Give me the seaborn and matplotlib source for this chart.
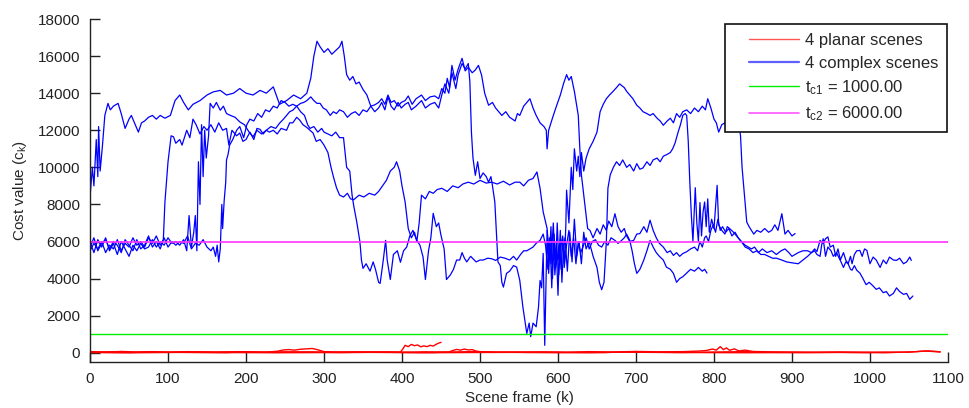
import numpy as np
import pandas as pd
import matplotlib
matplotlib.use("Agg")
import matplotlib.pyplot as plt
from matplotlib.lines import Line2D
from matplotlib.legend_handler import HandlerLine2D
import seaborn as sns

# (frame, cost), one list per scene
complex_1 = [(0,8400),(3,10000),(5,9000),(8,11500),(10,9500),(11,12200),(13,9800),(16,11200),(19,12800),(23,13450),(26,13100),(30,13300),(36,13450),(40,12900),(45,12100),(50,12600),(53,12800),(58,12300),(62,11900),(66,12400),(70,12500),(75,12700),(80,12800),(85,12600),(90,12800),(96,12650),(103,12800),(109,13600),(115,13900),(120,13500),(126,13100),(132,13400),(141,13600),(150,13900),(158,14070),(167,14150),(175,13900),(184,14000),(192,14250),(200,14000),(209,13900),(218,14150),(226,14000),(235,14340),(243,13400),(252,13600),(261,13900),(270,13700),(278,14000),(283,14800),(287,16000),(291,16800),(295,16500),(300,16200),(305,16400),(310,16100),(315,16300),(320,16500),(323,16800),(326,16000),(329,15000),(333,14700),(337,14900),(341,14500),(345,14600),(350,14200),(355,13900),(360,13300),(365,13370),(370,13500),(374,13700),(378,13400),(382,13900),(386,13500),(390,13600),(395,13300),(399,13500),(404,13600),(408,13850),(413,13400),(418,13700),(425,13900),(430,13600),(436,13800),(442,13850),(447,13700),(451,14250),(455,14000),(458,14800),(461,14300),(464,15500),(468,14700),(472,15300),(477,15880),(481,15200),(485,15400),(490,15100),(494,15250),(498,15500),(502,14980),(506,14000),(511,13350),(516,13500),(520,13200),(524,13000),(528,12800),(533,13000),(538,12700),(545,12500),(548,12900),(551,12800),(556,13300),(560,13500),(564,13700),(568,13200),(572,12800),(577,12400),(582,12200),(585,12000),(586,11000),(588,12000),(594,12800),(598,13300),(603,13900),(607,14500),(611,15000),(614,14700),(617,14900),(621,14100),(624,13300),(626,12800),(628,11000),(630,9600),(634,8130),(638,6700),(641,6600),(645,6200),(650,6700),(654,6400),(658,6900),(662,6600),(665,7100),(669,6800),(673,7500),(677,6800),(681,6500),(685,6700),(688,6300),(692,6000),(697,6060),(701,6400),(705,6430),(710,6800),(714,6500),(718,7150),(722,6600),(726,6200),(730,5900),(735,5700),(740,5400),(744,5500),(748,5250),(752,5400),(756,5200),(760,5350),(765,5450),(770,5600),(775,5700),(779,5500),(782,6000),(785,5700),(788,6200),(790,6300),(793,6000),(796,6600),(799,6900),(802,6500),(805,7200),(808,6600),(811,6800),(815,6500),(819,6700),(823,6300),(827,6500),(831,6200),(835,6000),(840,5700),(845,5600),(850,5400),(855,5500),(860,5300),(865,5300),(870,5200),(875,5100),(880,5100),(887,5000),(893,4900),(900,4850),(908,4800),(914,5000),(920,5200),(925,5400),(929,5500),(932,5300),(936,5200),(938,5800),(940,6150),(943,5200),(946,5700),(950,5500),(953,5200),(957,5400),(962,4980),(966,4600),(969,4900),(972,4800),(975,4500),(977,4450),(980,4700),(983,4450),(987,4300),(991,4000),(995,3670),(999,3800),(1004,3600),(1008,3420),(1012,3500),(1017,3240),(1021,3300),(1025,3060),(1030,3200),(1034,3500),(1038,3300),(1043,3150),(1047,3200),(1051,2880),(1055,3060)]

complex_2 = [(0,5500),(5,5900),(10,5600),(15,6000),(20,5400),(25,5800),(30,5600),(35,6100),(40,5500),(45,5900),(50,5700),(55,6200),(60,5800),(65,6000),(70,5700),(75,6200),(80,5900),(85,6300),(90,5800),(94,6100),(96,8100),(100,10300),(104,11700),(107,11650),(110,11300),(115,11500),(118,11200),(124,12000),(128,11600),(132,12600),(136,12300),(141,11800),(146,12200),(150,12000),(155,12300),(160,11900),(165,12400),(170,12000),(175,12100),(178,11200),(182,12000),(188,11700),(192,11850),(196,11400),(200,11500),(205,11900),(210,11500),(214,12100),(218,12050),(222,11800),(226,12000),(230,11900),(235,12000),(240,11800),(245,12100),(252,12000),(256,12400),(260,12400),(265,12700),(269,12540),(273,12300),(278,12150),(282,12000),(286,11850),(290,11400),(295,11500),(300,11200),(305,10800),(309,10000),(312,9500),(316,8900),(320,8500),(325,8400),(330,8600),(334,8300),(338,8250),(345,8500),(351,8400),(358,8600),(365,8500),(370,8700),(375,9000),(380,9300),(385,9800),(390,10000),(393,10300),(397,9800),(400,9000),(404,8130),(408,6700),(412,6200),(416,6500),(419,6000),(422,7000),(425,8500),(430,8300),(435,8700),(440,8600),(445,8800),(451,8870),(458,8700),(465,9000),(472,8900),(478,9100),(485,9200),(492,9100),(500,9300),(508,9150),(515,9200),(522,9100),(530,9250),(538,9050),(545,9200),(551,9200),(556,9000),(562,9300),(568,9400),(573,9750),(577,8870),(581,7600),(586,6700),(589,5200),(591,6800),(593,4000),(595,6400),(597,4600),(599,7000),(601,5000),(603,6600),(605,3800),(607,5600),(609,6200),(612,4400),(615,6500),(618,4900),(621,7200),(624,5200),(627,6000),(630,4800),(633,6500),(636,5600),(640,6000),(645,5200),(650,4600),(653,3800),(656,3400),(659,3800),(662,6000),(664,8870),(667,9600),(671,10000),(675,10300),(679,10100),(683,10400),(688,10000),(692,10150),(697,9800),(701,10200),(705,9900),(709,9970),(714,10300),(718,10100),(722,10400),(727,10500),(731,10300),(735,10600),(740,10700),(744,10800),(747,11000),(750,11300),(754,11900),(757,12300),(760,12800),(763,12900),(765,12800),(767,11400),(769,9200),(771,7400),(773,6000),(776,8900),(778,7000),(780,6000),(782,8100),(784,6300),(786,7600),(788,8130),(790,6800),(792,8300),(794,6500),(797,7200),(800,6700),(804,9030),(806,6900),(810,6600),(814,6400),(817,6800),(820,6700),(825,6500),(831,6200),(835,6000),(840,5800),(844,5700),(848,5600),(852,5700),(857,5400),(862,5600),(868,5400),(874,5500),(880,5300),(886,5500),(891,5600),(896,5400),(900,5200),(904,5300),(908,5400),(914,5500),(920,5500),(925,5400),(929,5600),(932,5460),(936,6060),(940,5900),(943,6150),(946,6250),(949,5700),(953,5800),(956,5200),(959,5600),(962,5000),(966,5400),(969,5000),(972,4800),(975,5200),(977,4800),(980,5300),(983,5500),(987,5520),(990,5200),(993,5600),(996,5520),(1000,4800),(1004,5160),(1008,5000),(1013,4600),(1017,5000),(1021,4800),(1025,5160),(1030,5000),(1034,4980),(1038,5100),(1043,4800),(1047,4900),(1051,5160),(1053,4980)]

complex_3 = [(0,6000),(5,5400),(10,6100),(15,5700),(20,6200),(25,5500),(30,5900),(35,5300),(40,6000),(45,5600),(50,5200),(55,5800),(60,5500),(65,5900),(70,5600),(75,5700),(80,6100),(85,5700),(90,6000),(95,5800),(100,6200),(105,5900),(110,6000),(115,5800),(120,6100),(124,5500),(127,7400),(130,5700),(133,6500),(135,7400),(137,5500),(139,10300),(141,8000),(143,12300),(145,9500),(147,12000),(149,10500),(152,11700),(154,13450),(158,13200),(162,13500),(167,13080),(171,13300),(175,12900),(180,12800),(186,12700),(192,12450),(198,12300),(204,11900),(209,11650),(214,12000),(220,11800),(226,12000),(232,12200),(238,12100),(243,12380),(248,12600),(252,12800),(256,13000),(260,13080),(265,13300),(270,13450),(274,13500),(278,13600),(283,13800),(287,13600),(291,13450),(295,13450),(299,13200),(303,13100),(308,12800),(312,13000),(316,12900),(320,13100),(325,13000),(330,12700),(335,12900),(340,13000),(345,12800),(350,13100),(355,13000),(360,13300),(365,13000),(370,13200),(374,13500),(378,13100),(382,13800),(386,13300),(390,13100),(395,13500),(399,13200),(404,13400),(408,13500),(412,13100),(418,13300),(425,13600),(430,13200),(436,13400),(442,13500),(447,13200),(451,13900),(455,14500),(460,14000),(464,15100),(469,14250),(472,15000),(477,15600),(481,15300),(485,15600),(487,14600),(489,11900),(491,10500),(494,9570),(497,10300),(500,9400),(504,9700),(508,9500),(511,9200),(514,9500),(516,9000),(519,8130),(521,6500),(523,4900),(526,4700),(528,3800),(530,3540),(534,4280),(538,4400),(543,4700),(547,4620),(551,3900),(555,2460),(560,1040),(563,1600),(565,870),(568,1600),(572,1400),(575,2460),(577,3900),(579,3500),(581,5360),(583,400),(586,6600),(588,4280),(590,5800),(592,3500),(594,6000),(596,4200),(598,5500),(600,3100),(602,5800),(604,4500),(606,6200),(608,4800),(610,6800),(611,8770),(614,7000),(617,10000),(619,8800),(621,11000),(624,9800),(626,10600),(628,9500),(630,10800),(633,9800),(636,10500),(640,11000),(645,11400),(650,11900),(654,13000),(658,13400),(662,13700),(666,13900),(670,14070),(675,14300),(679,14500),(682,14400),(685,14300),(688,14100),(692,13900),(696,13700),(701,13350),(705,13200),(709,13000),(714,12900),(718,12800),(722,12900),(727,12650),(731,12500),(735,12270),(740,12500),(744,12650),(748,12400),(752,12900),(756,12700),(760,13000),(765,13100),(770,12900),(775,13200),(780,13000),(785,13300),(789,13100),(792,13700),(796,13200),(800,12600),(803,12400),(806,11900),(810,12300),(814,12400),(818,12500),(822,12200),(825,12800),(828,12600),(831,12700),(834,11700),(836,10000),(838,9000),(840,8000),(842,7050),(845,6800),(848,6600),(851,6400),(855,6600),(860,6500),(865,6700),(870,6500),(874,6600),(878,6900),(882,6600),(887,7500),(891,6400),(895,6600),(900,6300),(904,6430)]

complex_4 = [(0,5700),(5,6200),(10,5500),(15,5900),(20,6100),(25,5600),(30,6000),(35,5800),(40,5400),(45,6100),(50,5800),(55,5500),(60,6100),(65,5600),(70,5800),(75,6300),(80,5700),(85,6000),(90,5600),(95,6200),(100,5700),(105,6000),(110,5800),(115,6000),(120,5900),(125,6300),(130,5600),(135,5900),(140,5800),(145,6100),(150,5700),(155,5500),(158,5700),(161,5200),(163,5800),(165,4900),(167,5600),(169,8000),(170,6700),(172,8200),(174,9200),(175,10400),(177,10700),(179,11200),(183,11500),(188,12000),(192,12200),(197,11600),(201,12300),(205,12600),(210,12500),(215,12900),(220,12700),(225,13100),(230,13000),(235,13300),(240,13200),(245,13600),(250,13500),(255,13300),(260,13400),(265,13300),(270,13000),(275,12800),(279,12300),(282,12100),(287,12200),(292,11900),(297,12100),(300,11900),(305,11800),(310,11700),(315,11900),(320,11600),(325,11600),(329,10000),(333,9800),(336,8500),(338,7950),(342,7050),(346,6000),(348,5000),(350,4550),(354,4800),(359,4400),(363,4900),(366,4500),(370,3800),(372,3740),(376,5000),(379,6060),(381,5000),(385,3950),(389,5300),(394,5500),(398,4880),(402,5500),(406,5700),(410,6300),(414,6600),(419,6060),(423,5800),(427,5160),(430,3950),(434,5500),(437,6200),(440,7520),(444,6800),(447,7000),(450,6330),(454,5600),(457,3950),(462,4200),(466,4500),(470,5000),(474,5000),(477,5400),(480,5100),(483,4900),(488,5200),(495,4900),(500,5000),(504,5000),(510,5100),(515,5070),(520,4980),(526,5160),(532,5100),(538,5000),(543,5200),(547,5000),(552,5300),(556,5500),(560,5500),(564,5600),(568,5700),(572,5900),(577,6060),(581,6400),(584,5800),(587,4500),(589,6200),(591,4800),(594,7000),(596,5000),(598,6000),(601,4200),(603,5600),(606,6300),(608,4600),(611,5800),(614,6600),(617,5200),(620,6200),(623,4800),(626,6000),(629,5400),(632,5700),(636,6200),(640,5600),(644,6000),(648,6100),(652,5800),(656,5700),(660,6000),(664,5800),(668,6200),(673,6060),(677,5900),(680,6000),(685,6200),(688,6400),(692,6060),(695,5500),(698,4800),(701,4280),(705,4500),(710,5000),(714,5500),(718,6060),(722,5700),(726,5400),(730,5200),(735,5000),(739,4620),(744,4500),(748,4280),(752,3800),(756,4000),(760,4100),(765,4300),(770,4500),(775,4400),(780,4600),(785,4400),(788,4500),(791,4300)]

planar_1 = [(0,60),(20,30),(40,70),(60,40),(80,60),(100,30),(130,50),(160,40),(190,60),(220,30),(250,50),(280,40),(310,30),(340,50),(370,40),(400,30),(430,50),(460,40),(490,60),(520,30),(550,40),(580,50),(610,30),(640,60),(670,40),(700,70),(730,50),(760,60),(780,90),(790,120),(798,200),(803,140),(808,330),(812,170),(816,260),(820,130),(826,210),(832,100),(840,140),(850,70),(870,50),(900,40),(930,30),(960,40),(990,30),(1020,40),(1050,30),(1065,80),(1075,100),(1085,70),(1090,50)]
planar_2 = [(0,20),(25,50),(50,10),(75,40),(100,20),(125,60),(150,30),(175,10),(200,50),(225,30),(240,80),(248,150),(255,170),(262,140),(270,190),(278,210),(285,230),(292,160),(300,60),(320,30),(350,20),(380,40),(398,30),(401,200),(404,400),(408,330),(412,450),(416,380),(420,420),(424,320),(428,370),(432,330),(436,400),(440,360),(444,460),(447,520),(450,560)]
planar_3 = [(0,30),(40,10),(80,40),(120,20),(160,10),(200,30),(240,20),(280,40),(320,10),(360,30),(400,20),(440,10),(460,40),(465,120),(470,180),(475,140),(480,200),(485,150),(490,170),(495,90),(500,60),(520,40),(560,20),(600,30),(640,10),(680,30),(720,20),(760,10),(800,40),(840,60),(880,20),(920,10),(960,20),(1000,10)]
planar_4 = [(0,10),(60,0),(120,20),(180,10),(240,0),(300,10),(360,20),(420,0),(480,10),(540,20),(600,0),(660,10),(700,60),(720,30),(740,20),(780,10),(840,0),(900,10),(960,20),(1020,0),(1060,60),(1070,90),(1080,70),(1090,40)]

complex_scenes = [complex_1, complex_2, complex_3, complex_4]
planar_scenes = [planar_1, planar_2, planar_3, planar_4]
thresholds = [1000.0, 6000.0]
threshold_names = ["c1", "c2"]
x_ticks = list(range(0, 1101, 100))
y_ticks = list(range(0, 18001, 2000))

sns.set_style("ticks")
plt.rcParams["font.family"] = ["Liberation Sans", "DejaVu Sans"]
plt.rcParams["font.size"] = 11

fig = plt.figure(figsize=(9.7, 4.08), dpi=100)
ax = fig.add_axes([0.0928, 0.1127, 0.8845, 0.8407])

for scene in planar_scenes:
    f, c = np.array(scene).T
    sns.lineplot(x=f, y=c, ax=ax, color="#ff0000", linewidth=1.0,
                 estimator=None, sort=False)
for scene in complex_scenes:
    f, c = np.array(scene).T
    sns.lineplot(x=f, y=c, ax=ax, color="#0000ff", linewidth=0.9,
                 estimator=None, sort=False)

ax.axhline(thresholds[0], color="#00ee00", linewidth=1.0)
ax.axhline(thresholds[1], color="#ff33ff", linewidth=1.2)

ax.set_xlim(0, 1100)
ax.set_ylim(-500, 18000)
ax.set_xticks(x_ticks)
ax.set_yticks(y_ticks)
ax.tick_params(direction="in", length=7, width=1, labelsize=11,
               colors="#222222", pad=7, bottom=True, left=True)
for side in ["top", "right"]:
    ax.spines[side].set_visible(False)
for side in ["left", "bottom"]:
    ax.spines[side].set_color("#222222")
    ax.spines[side].set_linewidth(1.0)

ax.set_xlabel("Scene frame (k)", fontsize=11, labelpad=4)
ax.set_ylabel(r"Cost value (c$_\mathregular{k}$)", fontsize=11, labelpad=6)

handles = [
    Line2D([], [], color="#ff5555", linewidth=1.0),
    Line2D([], [], color="#6060ff", linewidth=1.6),
    Line2D([], [], color="#00ee00", linewidth=1.0),
    Line2D([], [], color="#ff55ff", linewidth=1.2),
]
labels = ["4 planar scenes", "4 complex scenes"] + [
    rf"$\mathregular{{t_{{{n}}}}}$ = {t:.2f}" for n, t in zip(threshold_names, thresholds)
]
leg = ax.legend(handles, labels, loc="upper right", bbox_to_anchor=(0.999, 0.985),
                borderaxespad=0, fontsize=12, handlelength=3.9, handletextpad=0.35,
                labelspacing=0.45, borderpad=0.55,
                handler_map={Line2D: HandlerLine2D(xpad=0.9)},
                fancybox=False, framealpha=1, edgecolor="#111111")
leg.get_frame().set_linewidth(1.2)

fig.savefig("out.png", dpi=100, facecolor="white")
